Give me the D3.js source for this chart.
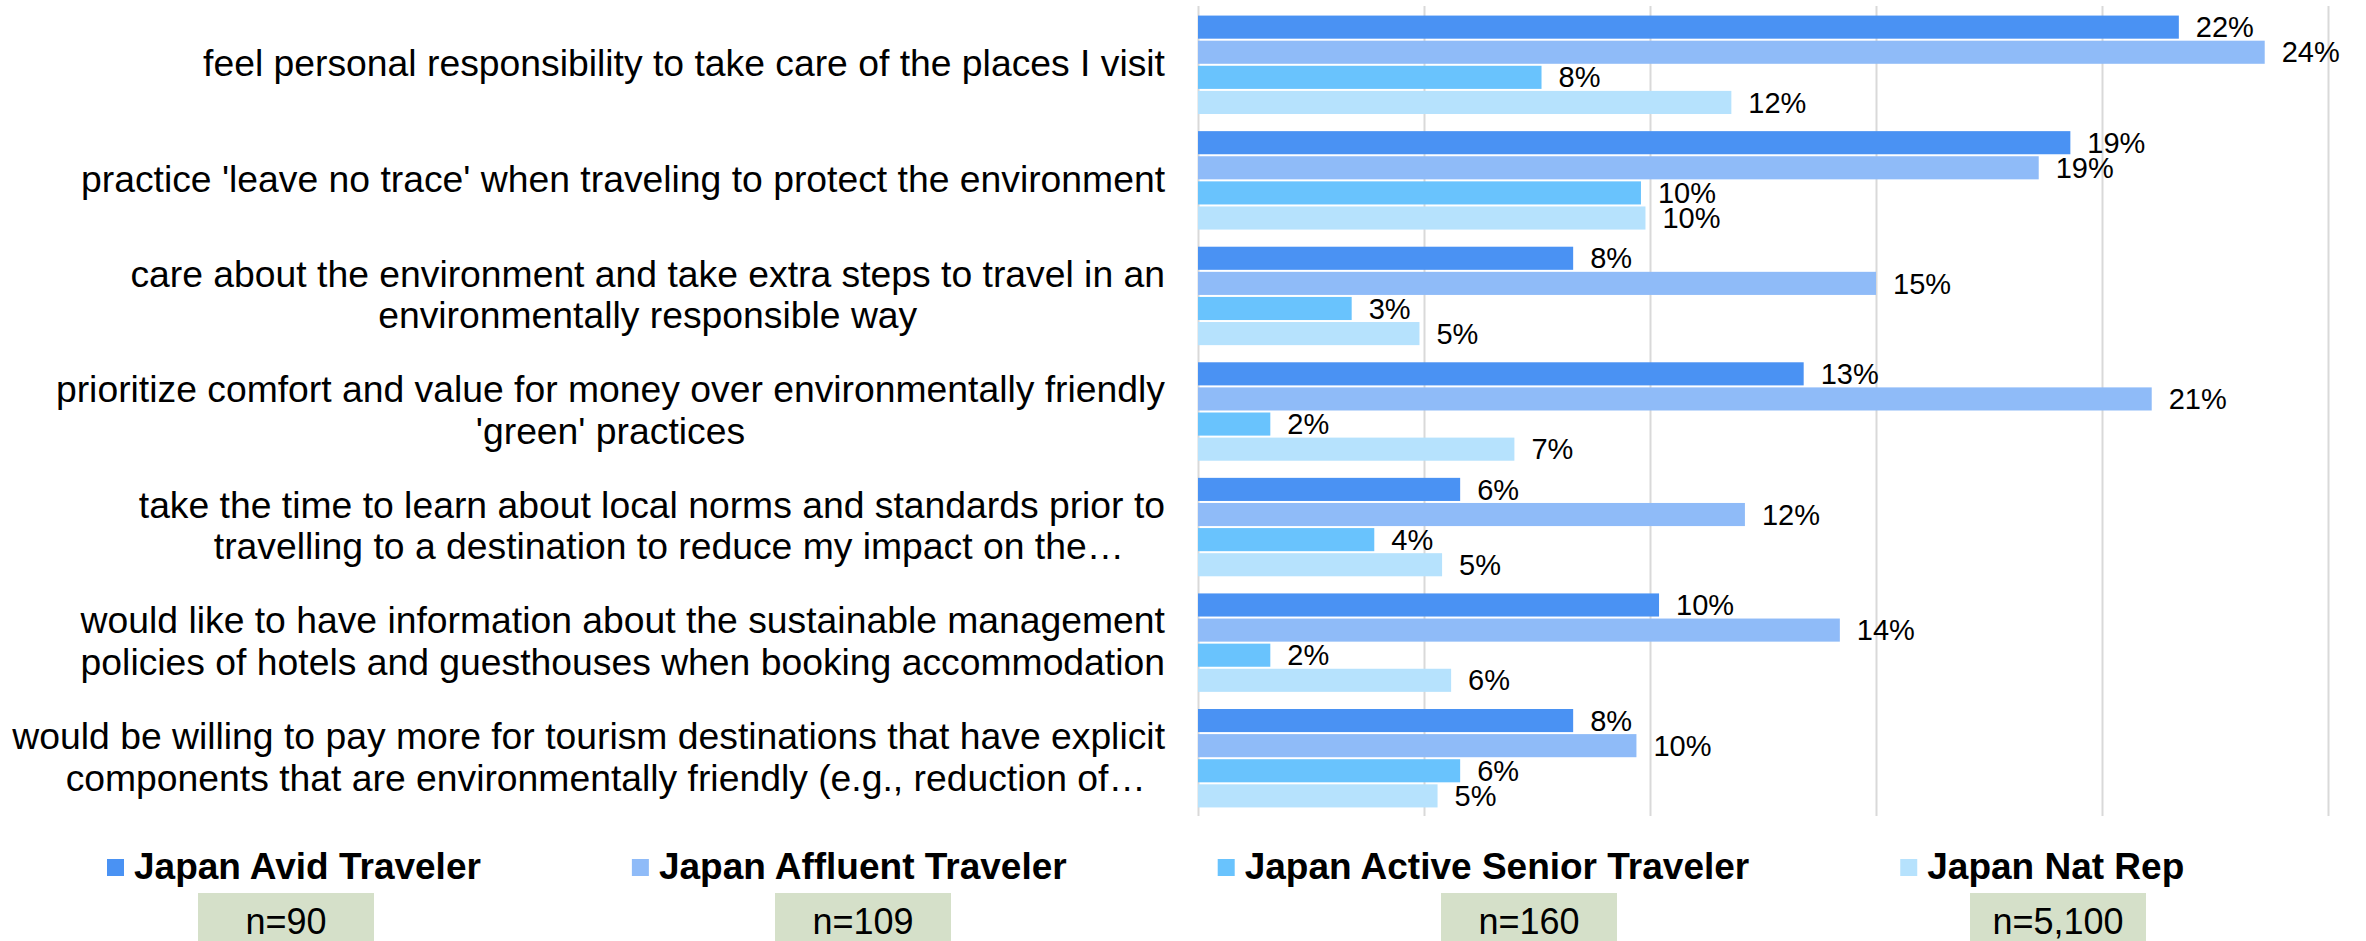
<!DOCTYPE html>
<html>
<head>
<meta charset="utf-8">
<script src="https://cdn.jsdelivr.net/npm/d3@7"></script>
<style>
  html, body { margin: 0; padding: 0; background: #fff; }
  svg { display: block; font-family: "Liberation Sans", Arial, sans-serif; }
</style>
</head>
<body>
<svg id="chart" width="2366" height="941"></svg>
<script>
// Survey statements (lines separated by "\n")
const categories = [
  "feel personal responsibility to take care of the places I visit",
  "practice 'leave no trace' when traveling to protect the environment",
  "care about the environment and take extra steps to travel in an\nenvironmentally responsible way",
  "prioritize comfort and value for money over environmentally friendly\n'green' practices",
  "take the time to learn about local norms and standards prior to\ntravelling to a destination to reduce my impact on the…",
  "would like to have information about the sustainable management\npolicies of hotels and guesthouses when booking accommodation",
  "would be willing to pay more for tourism destinations that have explicit\ncomponents that are environmentally friendly (e.g., reduction of…"
];

const seriesNames = [
  "Japan Avid Traveler",
  "Japan Affluent Traveler",
  "Japan Active Senior Traveler",
  "Japan Nat Rep"
];

// Share of respondents (%) per statement
const avidValues     = [21.7, 19.3, 8.3, 13.4, 5.8, 10.2, 8.3];
const affluentValues = [23.6, 18.6, 15.0, 21.1, 12.1, 14.2, 9.7];
const seniorValues   = [7.6, 9.8, 3.4, 1.6, 3.9, 1.6, 5.8];
const natRepValues   = [11.8, 9.9, 4.9, 7.0, 5.4, 5.6, 5.3];

const sampleSizes = ["n=90", "n=109", "n=160", "n=5,100"];
const xTicks = [0, 5, 10, 15, 20, 25];

// ---- layout & styling ----
const colors = ["#4a92f3", "#8fbbf8", "#69c3fd", "#b6e2fd"];
const plot = { left: 1198, right: 2328, top: 7, bottom: 816 };
const labelRight = 1165;
const catFont = 37.3, catLineHeight = 41.5;
const truncatedShift = 17;          // clipped lines sit slightly right of centre
const valueFont = 29;
const legendFont = 37, legendY = 879, legendGap = 151;
const nBoxLefts = [198, 775, 1441, 1970], nBoxWidth = 176, nBoxTop = 893;

const seriesValues = [avidValues, affluentValues, seniorValues, natRepValues];
const rows = categories.map((c, i) => ({
  category: c,
  values: seriesValues.map((vals, s) => ({ series: s, value: vals[i] }))
}));

const svg = d3.select("#chart");

const x = d3.scaleLinear().domain([0, 25]).range([plot.left, plot.right]);
const y = d3.scaleBand()
  .domain(d3.range(categories.length))
  .range([plot.top, plot.bottom])
  .paddingInner(0.131)
  .paddingOuter(0.0655);
const ySub = d3.scaleBand()
  .domain(d3.range(seriesNames.length))
  .range([0, y.bandwidth()]);

// vertical gridlines
const grid = svg.append("g")
  .attr("transform", `translate(0,${plot.top - 1})`)
  .call(d3.axisTop(x).tickValues(xTicks).tickSize(-(plot.bottom - plot.top + 1)).tickFormat(""));
grid.select(".domain").remove();
grid.selectAll(".tick line").attr("stroke", "#d9d9d9").attr("stroke-width", 2);

// bars
const groups = svg.append("g").selectAll("g")
  .data(rows)
  .join("g")
  .attr("transform", (d, i) => `translate(0,${y(i)})`);

groups.selectAll("rect")
  .data(d => d.values)
  .join("rect")
  .attr("x", x(0))
  .attr("y", d => ySub(d.series) + 1)
  .attr("width", d => x(d.value) - x(0))
  .attr("height", ySub.bandwidth() - 2)
  .attr("fill", d => colors[d.series]);

// value labels
groups.selectAll("text")
  .data(d => d.values)
  .join("text")
  .attr("x", d => x(d.value) + 17)
  .attr("y", d => ySub(d.series) + ySub.bandwidth() / 2 + valueFont * 0.35)
  .attr("font-size", valueFont)
  .attr("fill", "#000")
  .text(d => d3.format(".0f")(d.value) + "%");

// category labels: block right-aligned, lines centred within the block
const catG = svg.append("g");
rows.forEach((row, i) => {
  const lines = row.category.split("\n");
  const cy = y(i) + y.bandwidth() / 2;
  const t = catG.append("text")
    .attr("font-size", catFont)
    .attr("fill", "#000");
  const spans = lines.map((ln, k) => t.append("tspan")
    .attr("y", cy + catFont * 0.31 + (k - (lines.length - 1) / 2) * catLineHeight)
    .text(ln));
  const widths = spans.map(s => s.node().getComputedTextLength());
  const maxW = d3.max(widths);
  if (lines.length === 1) {
    spans[0].attr("x", labelRight).attr("text-anchor", "end");
  } else {
    spans.forEach((s, k) => s
      .attr("x", labelRight - maxW / 2 + (lines[k].endsWith("…") ? truncatedShift : 0))
      .attr("text-anchor", "middle"));
  }
});

// legend
const legend = svg.append("g");
let lx = 107;
seriesNames.forEach((name, i) => {
  legend.append("rect")
    .attr("x", lx).attr("y", legendY - 20)
    .attr("width", 17).attr("height", 17)
    .attr("fill", colors[i]);
  const t = legend.append("text")
    .attr("x", lx + 27).attr("y", legendY)
    .attr("font-size", legendFont)
    .attr("font-weight", "bold")
    .attr("fill", "#000")
    .text(name);
  lx += 27 + t.node().getComputedTextLength() + legendGap;
});

// sample size boxes
const nG = svg.append("g").selectAll("g")
  .data(sampleSizes)
  .join("g")
  .attr("transform", (d, i) => `translate(${nBoxLefts[i]},${nBoxTop})`);
nG.append("rect")
  .attr("width", nBoxWidth).attr("height", 60)
  .attr("fill", "#d5e0c9");
nG.append("text")
  .attr("x", nBoxWidth / 2).attr("y", 41)
  .attr("text-anchor", "middle")
  .attr("font-size", 36)
  .attr("fill", "#000")
  .text(d => d);
</script>
</body>
</html>
